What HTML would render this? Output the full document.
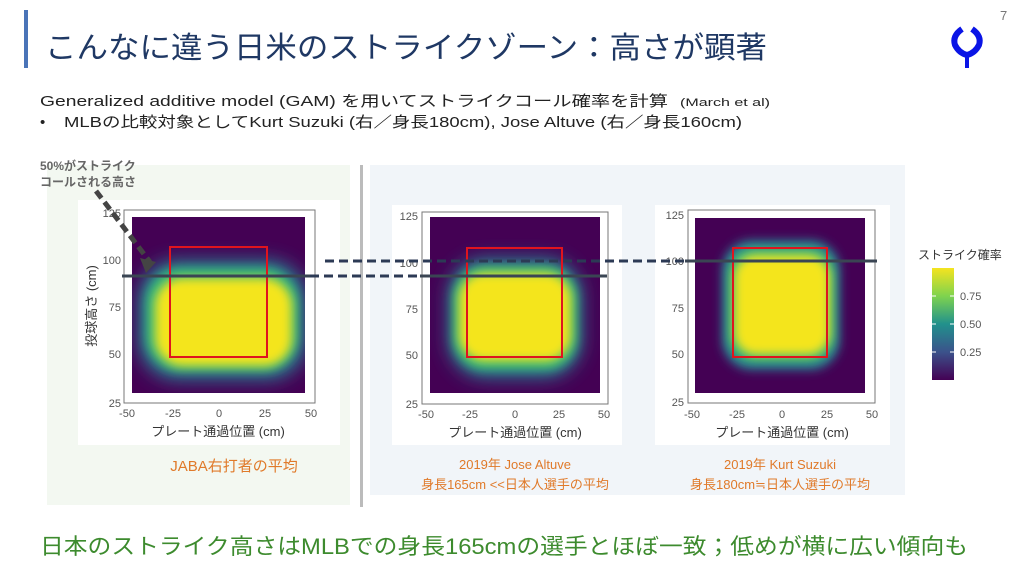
<!DOCTYPE html>
<html><head><meta charset="utf-8"><style>
html,body{margin:0;padding:0;background:#fff;width:1024px;height:576px;overflow:hidden}
svg{display:block}
text{font-family:"Liberation Sans","Noto Sans CJK JP",sans-serif}
</style></head><body>
<svg width="1024" height="576" viewBox="0 0 1024 576" xmlns="http://www.w3.org/2000/svg">
<defs>
<filter id="b1" x="-50%" y="-50%" width="200%" height="200%"><feGaussianBlur stdDeviation="9"/></filter>
<filter id="b2" x="-50%" y="-50%" width="200%" height="200%"><feGaussianBlur stdDeviation="5"/></filter>
<clipPath id="c1"><rect x="132" y="217" width="173" height="176"/></clipPath>
<clipPath id="c2"><rect x="430" y="217" width="170" height="176"/></clipPath>
<clipPath id="c3"><rect x="695" y="218" width="170" height="175"/></clipPath>
<linearGradient id="vir" x1="0" y1="0" x2="0" y2="1">
<stop offset="0" stop-color="#f5e41f"/><stop offset="0.25" stop-color="#7fd34e"/><stop offset="0.5" stop-color="#21918c"/><stop offset="0.75" stop-color="#3b528b"/><stop offset="1" stop-color="#440154"/></linearGradient>
</defs>
<!-- header -->
<rect x="24" y="10" width="4" height="58" fill="#4a74b8"/>
<text x="45" y="58" font-size="30" fill="#1f3864" textLength="722" lengthAdjust="spacingAndGlyphs">こんなに違う日米のストライクゾーン：高さが顕著</text>
<text x="1000" y="20" font-size="13" fill="#777">7</text>
<path d="M962 29 Q952 36 955 45 Q959 53 967 55 Q975 53 979 45 Q982 36 972 29" fill="none" stroke="#0a14e6" stroke-width="6" stroke-linejoin="round"/>
<rect x="965" y="52" width="4" height="16" fill="#0a14e6"/>
<text x="40" y="106" font-size="15" fill="#222" textLength="628" lengthAdjust="spacingAndGlyphs">Generalized additive model (GAM) を用いてストライクコール確率を計算</text>
<text x="680" y="106" font-size="11" fill="#222" textLength="90" lengthAdjust="spacingAndGlyphs">(March et al)</text>
<text x="40" y="127" font-size="15" fill="#222">•</text>
<text x="64" y="127" font-size="15" fill="#222" textLength="678" lengthAdjust="spacingAndGlyphs">MLBの比較対象としてKurt Suzuki (右／身長180cm), Jose Altuve (右／身長160cm)</text>
<!-- backgrounds -->
<rect x="47" y="165" width="303" height="340" fill="#f3f8f1"/>
<rect x="370" y="165" width="535" height="330" fill="#f1f5f9"/>
<rect x="360" y="165" width="3" height="342" fill="#bbb"/>
<rect x="78" y="200" width="262" height="245" fill="#fff"/>
<rect x="392" y="205" width="230" height="240" fill="#fff"/>
<rect x="655" y="205" width="235" height="240" fill="#fff"/>
<!-- panel 1 -->
<rect x="124" y="210" width="191" height="193" fill="#fff" stroke="#777" stroke-width="1"/>
<rect x="132" y="217" width="173" height="176" fill="#440154"/>
<g clip-path="url(#c1)">
<rect x="138" y="260" width="169" height="120" rx="40" fill="#2a788e" filter="url(#b1)"/>
<rect x="146" y="268" width="152" height="103" rx="35" fill="#35b779" filter="url(#b2)"/>
<rect x="155" y="278" width="137" height="88" rx="28" fill="#f4e51e" filter="url(#b2)"/>
</g>
<rect x="170" y="247" width="97" height="110" fill="none" stroke="#e0141e" stroke-width="2"/>
<g font-size="11" fill="#555" text-anchor="end">
<text x="121" y="217">125</text><text x="121" y="264">100</text><text x="121" y="311">75</text><text x="121" y="358">50</text><text x="121" y="407">25</text></g>
<g font-size="11" fill="#555" text-anchor="middle">
<text x="127" y="417">-50</text><text x="173" y="417">-25</text><text x="219" y="417">0</text><text x="265" y="417">25</text><text x="311" y="417">50</text></g>
<text x="218" y="436" font-size="13" fill="#333" text-anchor="middle">プレート通過位置 (cm)</text>
<text transform="translate(96 306) rotate(-90)" font-size="13" fill="#333" text-anchor="middle">投球高さ (cm)</text>
<!-- panel 2 -->
<rect x="422" y="212" width="186" height="192" fill="#fff" stroke="#777" stroke-width="1"/>
<rect x="430" y="217" width="170" height="176" fill="#440154"/>
<g clip-path="url(#c2)">
<rect x="448" y="258" width="134" height="120" rx="38" fill="#2a788e" filter="url(#b1)"/>
<rect x="453" y="266" width="124" height="104" rx="32" fill="#35b779" filter="url(#b2)"/>
<rect x="459" y="273" width="112" height="88" rx="26" fill="#f4e51e" filter="url(#b2)"/>
</g>
<rect x="467" y="248" width="95" height="109" fill="none" stroke="#e0141e" stroke-width="2"/>
<g font-size="11" fill="#555" text-anchor="end">
<text x="418" y="220">125</text><text x="418" y="267">100</text><text x="418" y="313">75</text><text x="418" y="359">50</text><text x="418" y="408">25</text></g>
<g font-size="11" fill="#555" text-anchor="middle">
<text x="426" y="418">-50</text><text x="470" y="418">-25</text><text x="515" y="418">0</text><text x="559" y="418">25</text><text x="604" y="418">50</text></g>
<text x="515" y="437" font-size="13" fill="#333" text-anchor="middle">プレート通過位置 (cm)</text>
<!-- panel 3 -->
<rect x="688" y="210" width="187" height="193" fill="#fff" stroke="#777" stroke-width="1"/>
<rect x="695" y="218" width="170" height="175" fill="#440154"/>
<g clip-path="url(#c3)">
<rect x="722" y="240" width="118" height="130" rx="30" fill="#2a788e" filter="url(#b2)"/>
<rect x="728" y="248" width="106" height="114" rx="26" fill="#35b779" filter="url(#b2)"/>
<rect x="734" y="255" width="96" height="100" rx="22" fill="#f4e51e" filter="url(#b2)"/>
</g>
<rect x="733" y="248" width="94" height="109" fill="none" stroke="#e0141e" stroke-width="2"/>
<g font-size="11" fill="#555" text-anchor="end">
<text x="684" y="219">125</text><text x="684" y="265">100</text><text x="684" y="312">75</text><text x="684" y="358">50</text><text x="684" y="406">25</text></g>
<g font-size="11" fill="#555" text-anchor="middle">
<text x="692" y="418">-50</text><text x="737" y="418">-25</text><text x="782" y="418">0</text><text x="827" y="418">25</text><text x="872" y="418">50</text></g>
<text x="782" y="437" font-size="13" fill="#333" text-anchor="middle">プレート通過位置 (cm)</text>
<!-- legend -->
<text x="918" y="259" font-size="12" fill="#333">ストライク確率</text>
<rect x="932" y="268" width="22" height="112" fill="url(#vir)"/>
<g stroke="#fff" stroke-width="1"><line x1="932" y1="296" x2="936" y2="296"/><line x1="950" y1="296" x2="954" y2="296"/><line x1="932" y1="324" x2="936" y2="324"/><line x1="950" y1="324" x2="954" y2="324"/><line x1="932" y1="352" x2="936" y2="352"/><line x1="950" y1="352" x2="954" y2="352"/></g>
<g font-size="11" fill="#555"><text x="960" y="300">0.75</text><text x="960" y="328">0.50</text><text x="960" y="356">0.25</text></g>
<!-- lines -->
<line x1="122" y1="276" x2="310" y2="276" stroke="#3a4553" stroke-width="3"/>
<line x1="310" y1="276" x2="422" y2="276" stroke="#2c3a55" stroke-width="3" stroke-dasharray="9 5"/>
<line x1="420" y1="276" x2="607" y2="276" stroke="#3a4553" stroke-width="3"/>
<line x1="325" y1="261" x2="685" y2="261" stroke="#2c3a55" stroke-width="3" stroke-dasharray="9 5"/>
<line x1="685" y1="261" x2="877" y2="261" stroke="#3a4553" stroke-width="3"/>
<!-- annotation -->
<text x="40" y="170" font-size="12" font-weight="bold" fill="#666">50%がストライク</text>
<text x="40" y="186" font-size="12" font-weight="bold" fill="#666">コールされる高さ</text>
<line x1="96" y1="191" x2="150" y2="262" stroke="#444" stroke-width="5" stroke-dasharray="9 5"/>
<path d="M146 273 L140 258 L156 262 Z" fill="#444"/>
<!-- captions -->
<text x="234" y="471" font-size="15" fill="#e07a2a" text-anchor="middle">JABA右打者の平均</text>
<text x="515" y="469" font-size="13" fill="#e07a2a" text-anchor="middle">2019年 Jose Altuve</text>
<text x="515" y="489" font-size="13" fill="#e07a2a" text-anchor="middle">身長165cm &lt;&lt;日本人選手の平均</text>
<text x="780" y="469" font-size="13" fill="#e07a2a" text-anchor="middle">2019年 Kurt Suzuki</text>
<text x="780" y="489" font-size="13" fill="#e07a2a" text-anchor="middle">身長180cm≒日本人選手の平均</text>
<text x="40" y="554" font-size="22" fill="#3d8b2e" textLength="928" lengthAdjust="spacingAndGlyphs">日本のストライク高さはMLBでの身長165cmの選手とほぼ一致；低めが横に広い傾向も</text>
</svg>
</body></html>
